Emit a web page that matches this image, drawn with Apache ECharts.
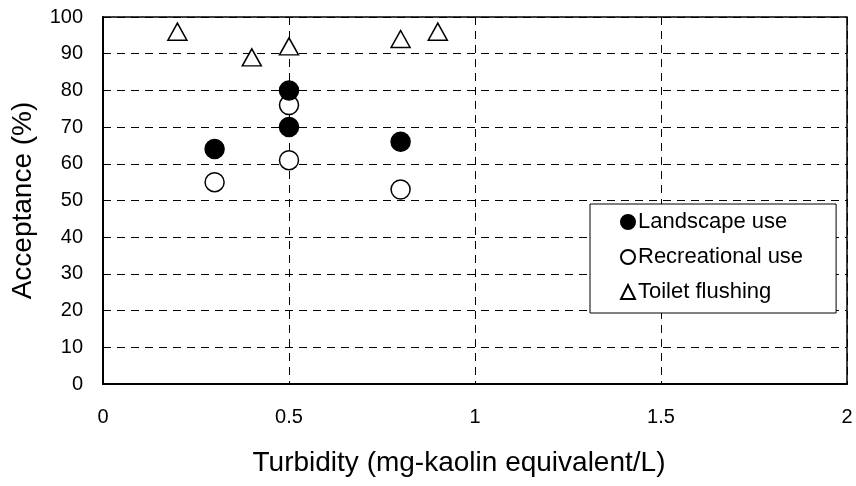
<!DOCTYPE html>
<html>
<head>
<meta charset="utf-8">
<script src="https://cdn.jsdelivr.net/npm/echarts@6/dist/echarts.min.js"></script>
<style>html,body{margin:0;padding:0;background:#fff}#c{width:856px;height:486px}</style>
</head>
<body>
<div id="c"></div>
<script>
const seriesNames = ['Landscape use', 'Recreational use', 'Toilet flushing'];
const landscapeX = [0.3, 0.5, 0.5, 0.8];
const landscapeY = [64, 80, 70, 66];
const recreationalX = [0.3, 0.5, 0.5, 0.8];
const recreationalY = [55, 76, 61, 53];
const toiletX = [0.2, 0.4, 0.5, 0.8, 0.9];
const toiletY = [96, 89, 92, 94, 96];
const xTicks = [0, 0.5, 1, 1.5, 2];
const yTicks = [0, 10, 20, 30, 40, 50, 60, 70, 80, 90, 100];

const zip = (xs, ys) => xs.map((x, i) => [x, ys[i]]);
const font = 'Liberation Sans, Arial, sans-serif';
const chart = echarts.init(document.getElementById('c'), null, {renderer: 'canvas'});
chart.setOption({
  animation: false,
  backgroundColor: '#fff',
  grid: {left: 103, top: 17, right: 9, bottom: 102, show: true, borderColor: '#000', borderWidth: 1.5, backgroundColor: 'transparent'},
  xAxis: {
    type: 'value', min: xTicks[0], max: xTicks[xTicks.length - 1], interval: 0.5,
    name: 'Turbidity (mg-kaolin equivalent/L)', nameLocation: 'middle', nameGap: 65,
    nameTextStyle: {fontSize: 28, color: '#000', fontFamily: font, padding: [0, 32, 0, 0]},
    axisLine: {show: true, lineStyle: {color: '#000', width: 2}},
    axisTick: {show: false},
    axisLabel: {fontSize: 20, color: '#000', fontFamily: font, margin: 23},
    splitLine: {show: true, lineStyle: {color: '#000', type: [8, 6], width: 1}}
  },
  yAxis: {
    type: 'value', min: yTicks[0], max: yTicks[yTicks.length - 1], interval: 10,
    name: 'Acceptance (%)', nameLocation: 'middle', nameGap: 66,
    nameTextStyle: {fontSize: 28, color: '#000', fontFamily: font},
    axisLine: {show: true, lineStyle: {color: '#000', width: 2}},
    axisTick: {show: false},
    axisLabel: {fontSize: 20, color: '#000', fontFamily: font, margin: 20},
    splitLine: {show: true, lineStyle: {color: '#000', type: [8, 6], width: 1}}
  },
  legend: {
    orient: 'vertical', left: 590, top: 204,
    backgroundColor: '#fff', borderColor: '#000', borderWidth: 1,
    padding: [7, 33, 10, 30], itemGap: 13, itemWidth: 14, itemHeight: 14,
    textStyle: {fontSize: 22, lineHeight: 22, color: '#000', fontFamily: font, padding: [0, 0, 0, -2]},
    data: seriesNames
  },
  series: [
    {name: seriesNames[0], type: 'scatter', symbol: 'circle', symbolSize: 19,
     itemStyle: {color: '#000', borderColor: '#000', borderWidth: 1.5, opacity: 1},
     data: zip(landscapeX, landscapeY), z: 3},
    {name: seriesNames[1], type: 'scatter', symbol: 'circle', symbolSize: 19,
     itemStyle: {color: '#fff', borderColor: '#000', borderWidth: 1.5, opacity: 1},
     data: zip(recreationalX, recreationalY), z: 2},
    {name: seriesNames[2], type: 'scatter', symbol: 'triangle', symbolSize: [19, 17],
     itemStyle: {color: '#fff', borderColor: '#000', borderWidth: 1.5, opacity: 1},
     data: zip(toiletX, toiletY), z: 2}
  ]
});
</script>
</body>
</html>
